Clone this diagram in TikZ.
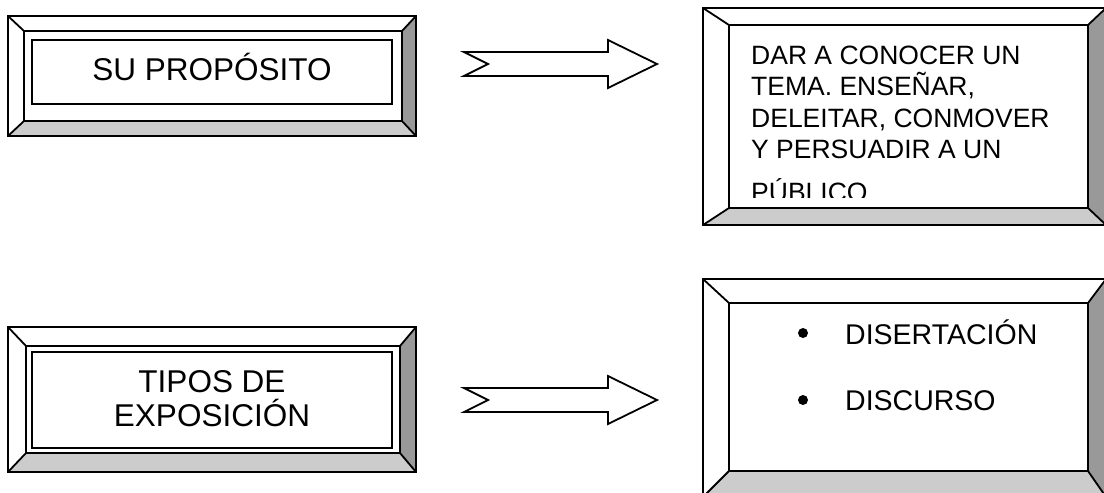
\documentclass[tikz,border=0pt]{standalone}
\usepackage{fontspec}
\setmainfont{Liberation Sans}
\definecolor{bevdark}{HTML}{999999}
\definecolor{bevlight}{HTML}{CCCCCC}

% bevelled frame: outer x1 y1 x2 y2, inner x1 y1 x2 y2
\newcommand{\bevelframe}[8]{%
    \fill[white] (#1,#2) rectangle (#3,#4);
    \fill[bevdark] (#3,#2) -- (#7,#6) -- (#7,#8) -- (#3,#4) -- cycle;
    \fill[bevlight] (#1,#4) -- (#5,#8) -- (#7,#8) -- (#3,#4) -- cycle;
    \draw[frameline] (#1,#2) rectangle (#3,#4);
    \draw[frameline] (#5,#6) rectangle (#7,#8);
    \draw[frameline] (#1,#2) -- (#5,#6) (#3,#2) -- (#7,#6)
        (#1,#4) -- (#5,#8) (#3,#4) -- (#7,#8);
}

\begin{document}
\begin{tikzpicture}[
        x=1pt, y=-1pt,
        frameline/.style={draw=black, line width=1.8pt},
        textframe/.style={draw=black, line width=1.8pt},
        blockarrow/.style={draw=black, fill=white, line width=1.8pt, line join=miter},
        bigtext/.style={font=\fontsize{31.5}{34}\selectfont, inner sep=0pt, align=center},
        boxtext/.style={font=\fontsize{26.5}{31.5}\selectfont, inner sep=0pt, align=left},
        listtext/.style={font=\fontsize{28.5}{34}\selectfont, inner sep=0pt},
    ]
    \useasboundingbox (0,0) rectangle (1104,493);

    % left boxes
    \bevelframe{8}{16}{416}{136}{24}{31}{402}{121}
    \draw[textframe] (32,40) rectangle (392,104);
    \node[bigtext, anchor=base] (proposito) at (212,80) {SU PROPÓSITO};

    \bevelframe{8}{327}{416}{472}{26}{346}{400}{453}
    \draw[textframe] (32,352) rectangle (392,448);
    \node[bigtext, anchor=base] (tipos) at (212,426) {TIPOS DE\\EXPOSICIÓN};

    % right boxes
    \bevelframe{703}{8}{1106}{225}{729}{25}{1088}{208}
    \begin{scope}
        \clip (729,25) rectangle (1088,197);
        \node[boxtext, anchor=base west] (fin) at (751,158.5)
            {DAR A CONOCER UN\\TEMA. ENSEÑAR,\\DELEITAR, CONMOVER\\Y PERSUADIR A UN};
        \node[boxtext, anchor=base west] (publico) at (751,201) {PÚBLICO};
    \end{scope}

    \bevelframe{703}{279}{1106}{497}{729}{303}{1088}{471}
    \fill (803,333) circle (5);
    \fill (803,400) circle (5);
    \node[listtext, anchor=base west] (disertacion) at (845,344) {DISERTACIÓN};
    \node[listtext, anchor=base west] (discurso) at (845,410) {DISCURSO};

    % block arrows
    \foreach \y in {64,400}
        \draw[blockarrow] (464,\y-12) -- (608,\y-12) -- (608,\y-24) -- (657,\y)
            -- (608,\y+24) -- (608,\y+12) -- (464,\y+12) -- (488,\y) -- cycle;
\end{tikzpicture}
\end{document}
